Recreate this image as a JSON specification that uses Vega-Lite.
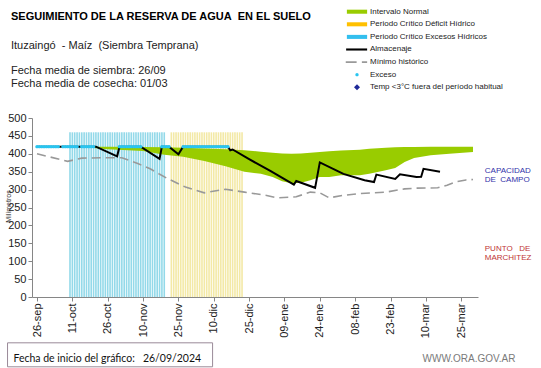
{
  "$schema": "https://vega.github.io/schema/vega-lite/v6.json",
  "autosize": {"type": "none"},
  "padding": {"left": 32, "top": 118, "right": 63, "bottom": 71},
  "width": 446,
  "height": 179,
  "background": "white",
  "title": {
    "text": "SEGUIMIENTO DE LA RESERVA DE AGUA\u00a0 EN EL SUELO",
    "subtitle": ["Ituzaingó\u00a0 - Maíz\u00a0 (Siembra Temprana)", "\u200b", "Fecha media de siembra: 26/09", "Fecha media de cosecha: 01/03"],
    "anchor": "start",
    "frame": "group",
    "orient": "top",
    "dx": -21,
    "offset": -85,
    "font": "Liberation Sans",
    "fontSize": 11,
    "fontWeight": "bold",
    "color": "#000000",
    "subtitleFont": "Liberation Sans",
    "subtitleFontSize": 11,
    "subtitleColor": "#222222",
    "subtitleLineHeight": 12.7,
    "subtitlePadding": 18
  },
  "datasets": {
    "periodos": [
      {"fecha": "2024-10-10", "tipo": "Excesos", "valor": 460}, {"fecha": "2024-10-11", "tipo": "Excesos", "valor": 460},
      {"fecha": "2024-10-12", "tipo": "Excesos", "valor": 460}, {"fecha": "2024-10-13", "tipo": "Excesos", "valor": 460},
      {"fecha": "2024-10-14", "tipo": "Excesos", "valor": 460}, {"fecha": "2024-10-15", "tipo": "Excesos", "valor": 460},
      {"fecha": "2024-10-16", "tipo": "Excesos", "valor": 460}, {"fecha": "2024-10-17", "tipo": "Excesos", "valor": 460},
      {"fecha": "2024-10-18", "tipo": "Excesos", "valor": 460}, {"fecha": "2024-10-19", "tipo": "Excesos", "valor": 460},
      {"fecha": "2024-10-20", "tipo": "Excesos", "valor": 460}, {"fecha": "2024-10-21", "tipo": "Excesos", "valor": 460},
      {"fecha": "2024-10-22", "tipo": "Excesos", "valor": 460}, {"fecha": "2024-10-23", "tipo": "Excesos", "valor": 460},
      {"fecha": "2024-10-24", "tipo": "Excesos", "valor": 460}, {"fecha": "2024-10-25", "tipo": "Excesos", "valor": 460},
      {"fecha": "2024-10-26", "tipo": "Excesos", "valor": 460}, {"fecha": "2024-10-27", "tipo": "Excesos", "valor": 460},
      {"fecha": "2024-10-28", "tipo": "Excesos", "valor": 460}, {"fecha": "2024-10-29", "tipo": "Excesos", "valor": 460},
      {"fecha": "2024-10-30", "tipo": "Excesos", "valor": 460}, {"fecha": "2024-10-31", "tipo": "Excesos", "valor": 460},
      {"fecha": "2024-11-01", "tipo": "Excesos", "valor": 460}, {"fecha": "2024-11-02", "tipo": "Excesos", "valor": 460},
      {"fecha": "2024-11-03", "tipo": "Excesos", "valor": 460}, {"fecha": "2024-11-04", "tipo": "Excesos", "valor": 460},
      {"fecha": "2024-11-05", "tipo": "Excesos", "valor": 460}, {"fecha": "2024-11-06", "tipo": "Excesos", "valor": 460},
      {"fecha": "2024-11-07", "tipo": "Excesos", "valor": 460}, {"fecha": "2024-11-08", "tipo": "Excesos", "valor": 460},
      {"fecha": "2024-11-09", "tipo": "Excesos", "valor": 460}, {"fecha": "2024-11-10", "tipo": "Excesos", "valor": 460},
      {"fecha": "2024-11-11", "tipo": "Excesos", "valor": 460}, {"fecha": "2024-11-12", "tipo": "Excesos", "valor": 460},
      {"fecha": "2024-11-13", "tipo": "Excesos", "valor": 460}, {"fecha": "2024-11-14", "tipo": "Excesos", "valor": 460},
      {"fecha": "2024-11-15", "tipo": "Excesos", "valor": 460}, {"fecha": "2024-11-16", "tipo": "Excesos", "valor": 460},
      {"fecha": "2024-11-17", "tipo": "Excesos", "valor": 460}, {"fecha": "2024-11-18", "tipo": "Excesos", "valor": 460},
      {"fecha": "2024-11-19", "tipo": "Excesos", "valor": 460},
      {"fecha": "2024-11-22", "tipo": "Deficit", "valor": 460}, {"fecha": "2024-11-23", "tipo": "Deficit", "valor": 460},
      {"fecha": "2024-11-24", "tipo": "Deficit", "valor": 460}, {"fecha": "2024-11-25", "tipo": "Deficit", "valor": 460},
      {"fecha": "2024-11-26", "tipo": "Deficit", "valor": 460}, {"fecha": "2024-11-27", "tipo": "Deficit", "valor": 460},
      {"fecha": "2024-11-28", "tipo": "Deficit", "valor": 460}, {"fecha": "2024-11-29", "tipo": "Deficit", "valor": 460},
      {"fecha": "2024-11-30", "tipo": "Deficit", "valor": 460}, {"fecha": "2024-12-01", "tipo": "Deficit", "valor": 460},
      {"fecha": "2024-12-02", "tipo": "Deficit", "valor": 460}, {"fecha": "2024-12-03", "tipo": "Deficit", "valor": 460},
      {"fecha": "2024-12-04", "tipo": "Deficit", "valor": 460}, {"fecha": "2024-12-05", "tipo": "Deficit", "valor": 460},
      {"fecha": "2024-12-06", "tipo": "Deficit", "valor": 460}, {"fecha": "2024-12-07", "tipo": "Deficit", "valor": 460},
      {"fecha": "2024-12-08", "tipo": "Deficit", "valor": 460}, {"fecha": "2024-12-09", "tipo": "Deficit", "valor": 460},
      {"fecha": "2024-12-10", "tipo": "Deficit", "valor": 460}, {"fecha": "2024-12-11", "tipo": "Deficit", "valor": 460},
      {"fecha": "2024-12-12", "tipo": "Deficit", "valor": 460}, {"fecha": "2024-12-13", "tipo": "Deficit", "valor": 460},
      {"fecha": "2024-12-14", "tipo": "Deficit", "valor": 460}, {"fecha": "2024-12-15", "tipo": "Deficit", "valor": 460},
      {"fecha": "2024-12-16", "tipo": "Deficit", "valor": 460}, {"fecha": "2024-12-17", "tipo": "Deficit", "valor": 460},
      {"fecha": "2024-12-18", "tipo": "Deficit", "valor": 460}, {"fecha": "2024-12-19", "tipo": "Deficit", "valor": 460},
      {"fecha": "2024-12-20", "tipo": "Deficit", "valor": 460}, {"fecha": "2024-12-21", "tipo": "Deficit", "valor": 460},
      {"fecha": "2024-12-22", "tipo": "Deficit", "valor": 460}
    ],
    "banda": [
      {"fecha": "2024-10-20", "inf": 416, "sup": 420},
      {"fecha": "2024-10-26", "inf": 413, "sup": 420},
      {"fecha": "2024-11-10", "inf": 408, "sup": 419},
      {"fecha": "2024-11-19", "inf": 397, "sup": 418},
      {"fecha": "2024-11-27", "inf": 392, "sup": 417},
      {"fecha": "2024-12-06", "inf": 380, "sup": 415},
      {"fecha": "2024-12-15", "inf": 365, "sup": 413},
      {"fecha": "2024-12-23", "inf": 350, "sup": 410},
      {"fecha": "2024-12-30", "inf": 344, "sup": 406},
      {"fecha": "2025-01-04", "inf": 335, "sup": 403},
      {"fecha": "2025-01-08", "inf": 323, "sup": 401},
      {"fecha": "2025-01-12", "inf": 318, "sup": 400},
      {"fecha": "2025-01-16", "inf": 319, "sup": 401},
      {"fecha": "2025-01-20", "inf": 326, "sup": 403},
      {"fecha": "2025-01-24", "inf": 335, "sup": 405},
      {"fecha": "2025-01-28", "inf": 335, "sup": 407},
      {"fecha": "2025-02-02", "inf": 340, "sup": 409},
      {"fecha": "2025-02-10", "inf": 340, "sup": 411},
      {"fecha": "2025-02-14", "inf": 344, "sup": 414},
      {"fecha": "2025-02-21", "inf": 354, "sup": 417},
      {"fecha": "2025-02-25", "inf": 360, "sup": 418},
      {"fecha": "2025-03-01", "inf": 377, "sup": 419},
      {"fecha": "2025-03-05", "inf": 388, "sup": 419},
      {"fecha": "2025-03-12", "inf": 396, "sup": 420},
      {"fecha": "2025-03-20", "inf": 400, "sup": 420},
      {"fecha": "2025-03-30", "inf": 405, "sup": 420}
    ],
    "minimo": [
      {"fecha": "2024-09-26", "valor": 400}, {"fecha": "2024-10-01", "valor": 392},
      {"fecha": "2024-10-09", "valor": 379}, {"fecha": "2024-10-15", "valor": 388},
      {"fecha": "2024-10-24", "valor": 389}, {"fecha": "2024-11-01", "valor": 389},
      {"fecha": "2024-11-08", "valor": 372}, {"fecha": "2024-11-13", "valor": 358},
      {"fecha": "2024-11-20", "valor": 332}, {"fecha": "2024-11-28", "valor": 307},
      {"fecha": "2024-12-06", "valor": 291}, {"fecha": "2024-12-15", "valor": 301},
      {"fecha": "2024-12-23", "valor": 293}, {"fecha": "2025-01-01", "valor": 284},
      {"fecha": "2025-01-06", "valor": 277}, {"fecha": "2025-01-14", "valor": 280},
      {"fecha": "2025-01-20", "valor": 293}, {"fecha": "2025-01-24", "valor": 291},
      {"fecha": "2025-01-28", "valor": 277}, {"fecha": "2025-02-03", "valor": 284},
      {"fecha": "2025-02-10", "valor": 289}, {"fecha": "2025-02-21", "valor": 293},
      {"fecha": "2025-03-01", "valor": 302}, {"fecha": "2025-03-06", "valor": 304},
      {"fecha": "2025-03-15", "valor": 305}, {"fecha": "2025-03-19", "valor": 312},
      {"fecha": "2025-03-23", "valor": 322}, {"fecha": "2025-03-27", "valor": 327},
      {"fecha": "2025-03-30", "valor": 328}
    ],
    "almacenaje": [
      {"fecha": "2024-09-26", "valor": 420}, {"fecha": "2024-10-21", "valor": 420},
      {"fecha": "2024-10-30", "valor": 393}, {"fecha": "2024-10-31", "valor": 420},
      {"fecha": "2024-11-09", "valor": 420}, {"fecha": "2024-11-17", "valor": 386},
      {"fecha": "2024-11-18", "valor": 420}, {"fecha": "2024-11-21", "valor": 420},
      {"fecha": "2024-11-25", "valor": 399}, {"fecha": "2024-11-27", "valor": 420},
      {"fecha": "2024-12-16", "valor": 420}, {"fecha": "2024-12-17", "valor": 410},
      {"fecha": "2024-12-18", "valor": 412}, {"fecha": "2024-12-25", "valor": 385},
      {"fecha": "2025-01-03", "valor": 352}, {"fecha": "2025-01-13", "valor": 314},
      {"fecha": "2025-01-14", "valor": 324}, {"fecha": "2025-01-22", "valor": 305},
      {"fecha": "2025-01-24", "valor": 376}, {"fecha": "2025-02-03", "valor": 344},
      {"fecha": "2025-02-12", "valor": 326}, {"fecha": "2025-02-16", "valor": 321},
      {"fecha": "2025-02-17", "valor": 342}, {"fecha": "2025-02-25", "valor": 330},
      {"fecha": "2025-02-27", "valor": 343}, {"fecha": "2025-03-06", "valor": 335},
      {"fecha": "2025-03-08", "valor": 336}, {"fecha": "2025-03-09", "valor": 358},
      {"fecha": "2025-03-16", "valor": 350}
    ],
    "exceso": [
      {"fecha": "2024-09-26", "serie": "Exceso", "valor": 420}, {"fecha": "2024-09-27", "serie": "Exceso", "valor": 420},
      {"fecha": "2024-09-28", "serie": "Exceso", "valor": 420}, {"fecha": "2024-09-29", "serie": "Exceso", "valor": 420},
      {"fecha": "2024-09-30", "serie": "Exceso", "valor": 420}, {"fecha": "2024-10-01", "serie": "Exceso", "valor": 420},
      {"fecha": "2024-10-02", "serie": "Exceso", "valor": 420}, {"fecha": "2024-10-03", "serie": "Exceso", "valor": 420},
      {"fecha": "2024-10-04", "serie": "Exceso", "valor": 420}, {"fecha": "2024-10-05", "serie": "Exceso", "valor": 420},
      {"fecha": "2024-10-07", "serie": "Exceso", "valor": 420}, {"fecha": "2024-10-08", "serie": "Exceso", "valor": 420},
      {"fecha": "2024-10-09", "serie": "Exceso", "valor": 420}, {"fecha": "2024-10-10", "serie": "Exceso", "valor": 420},
      {"fecha": "2024-10-11", "serie": "Exceso", "valor": 420}, {"fecha": "2024-10-12", "serie": "Exceso", "valor": 420},
      {"fecha": "2024-10-13", "serie": "Exceso", "valor": 420}, {"fecha": "2024-10-15", "serie": "Exceso", "valor": 420},
      {"fecha": "2024-10-16", "serie": "Exceso", "valor": 420}, {"fecha": "2024-10-17", "serie": "Exceso", "valor": 420},
      {"fecha": "2024-10-18", "serie": "Exceso", "valor": 420}, {"fecha": "2024-10-19", "serie": "Exceso", "valor": 420},
      {"fecha": "2024-10-20", "serie": "Exceso", "valor": 420},
      {"fecha": "2024-10-31", "serie": "Exceso", "valor": 420}, {"fecha": "2024-11-01", "serie": "Exceso", "valor": 420},
      {"fecha": "2024-11-02", "serie": "Exceso", "valor": 420}, {"fecha": "2024-11-03", "serie": "Exceso", "valor": 420},
      {"fecha": "2024-11-04", "serie": "Exceso", "valor": 420}, {"fecha": "2024-11-05", "serie": "Exceso", "valor": 420},
      {"fecha": "2024-11-06", "serie": "Exceso", "valor": 420}, {"fecha": "2024-11-07", "serie": "Exceso", "valor": 420},
      {"fecha": "2024-11-08", "serie": "Exceso", "valor": 420}, {"fecha": "2024-11-09", "serie": "Exceso", "valor": 420},
      {"fecha": "2024-11-18", "serie": "Exceso", "valor": 420}, {"fecha": "2024-11-19", "serie": "Exceso", "valor": 420},
      {"fecha": "2024-11-20", "serie": "Exceso", "valor": 420}, {"fecha": "2024-11-21", "serie": "Exceso", "valor": 420},
      {"fecha": "2024-11-27", "serie": "Exceso", "valor": 420}, {"fecha": "2024-11-28", "serie": "Exceso", "valor": 420},
      {"fecha": "2024-11-29", "serie": "Exceso", "valor": 420}, {"fecha": "2024-11-30", "serie": "Exceso", "valor": 420},
      {"fecha": "2024-12-01", "serie": "Exceso", "valor": 420}, {"fecha": "2024-12-02", "serie": "Exceso", "valor": 420},
      {"fecha": "2024-12-03", "serie": "Exceso", "valor": 420}, {"fecha": "2024-12-04", "serie": "Exceso", "valor": 420},
      {"fecha": "2024-12-05", "serie": "Exceso", "valor": 420}, {"fecha": "2024-12-06", "serie": "Exceso", "valor": 420},
      {"fecha": "2024-12-07", "serie": "Exceso", "valor": 420}, {"fecha": "2024-12-08", "serie": "Exceso", "valor": 420},
      {"fecha": "2024-12-09", "serie": "Exceso", "valor": 420}, {"fecha": "2024-12-10", "serie": "Exceso", "valor": 420},
      {"fecha": "2024-12-11", "serie": "Exceso", "valor": 420}, {"fecha": "2024-12-12", "serie": "Exceso", "valor": 420},
      {"fecha": "2024-12-13", "serie": "Exceso", "valor": 420}, {"fecha": "2024-12-14", "serie": "Exceso", "valor": 420},
      {"fecha": "2024-12-15", "serie": "Exceso", "valor": 420}, {"fecha": "2024-12-16", "serie": "Exceso", "valor": 420}
    ]
  },
  "layer": [
    {
      "data": {"name": "periodos"},
      "transform": [{"filter": "datum.tipo === 'Excesos'"}],
      "mark": {"type": "bar", "size": 1.6, "color": "#93d9e9"},
      "encoding": {
        "x": {
          "field": "fecha", "type": "temporal",
          "scale": {"type": "utc", "domain": [{"year": 2024, "month": 9, "date": 26, "utc": true}, {"year": 2025, "month": 3, "date": 30, "utc": true}]},
          "axis": {
            "title": null,
            "values": [
              {"year": 2024, "month": 9, "date": 26, "utc": true}, {"year": 2024, "month": 10, "date": 11, "utc": true},
              {"year": 2024, "month": 10, "date": 26, "utc": true}, {"year": 2024, "month": 11, "date": 10, "utc": true},
              {"year": 2024, "month": 11, "date": 25, "utc": true}, {"year": 2024, "month": 12, "date": 10, "utc": true},
              {"year": 2024, "month": 12, "date": 25, "utc": true}, {"year": 2025, "month": 1, "date": 9, "utc": true},
              {"year": 2025, "month": 1, "date": 24, "utc": true}, {"year": 2025, "month": 2, "date": 8, "utc": true},
              {"year": 2025, "month": 2, "date": 23, "utc": true}, {"year": 2025, "month": 3, "date": 10, "utc": true},
              {"year": 2025, "month": 3, "date": 25, "utc": true}
            ],
            "tickCount": 40,
            "labelExpr": "utcFormat(datum.value, '%d') + '-' + ['ene','feb','mar','abr','may','jun','jul','ago','sep','oct','nov','dic'][utcmonth(datum.value)]",
            "labelAngle": -90,
            "labelFont": "Liberation Sans",
            "labelFontSize": 11,
            "labelColor": "#222222",
            "labelPadding": 2,
            "tickSize": 4,
            "tickColor": "#868686",
            "domainColor": "#868686",
            "grid": false,
            "labelOverlap": false,
            "labelFlush": false,
            "labelBound": false
          }
        },
        "y": {
          "field": "valor", "type": "quantitative",
          "scale": {"domain": [0, 500], "nice": false},
          "axis": {
            "title": "Milímetros",
            "values": [0, 50, 100, 150, 200, 250, 300, 350, 400, 450, 500],
            "tickCount": 40,
            "grid": false,
            "labelOverlap": false,
            "labelFlush": false,
            "labelBound": false,
            "labelFont": "Liberation Sans",
            "labelFontSize": 11,
            "labelColor": "#222222",
            "labelPadding": 2,
            "tickSize": 4,
            "tickColor": "#868686",
            "domainColor": "#868686",
            "titleFont": "Liberation Sans",
            "titleFontSize": 7,
            "titleFontWeight": "normal",
            "titleColor": "#333333",
            "titleX": -24,
            "titleY": 88,
            "titleBaseline": "middle"
          }
        }
      }
    },
    {
      "data": {"name": "periodos"},
      "transform": [{"filter": "datum.tipo === 'Deficit'"}],
      "mark": {"type": "bar", "size": 1.6, "color": "#f3e9a6"},
      "encoding": {
        "x": {"field": "fecha", "type": "temporal"},
        "y": {"field": "valor", "type": "quantitative"}
      }
    },
    {
      "data": {"name": "banda"},
      "mark": {"type": "area", "color": "#99cc00", "opacity": 1},
      "encoding": {
        "x": {"field": "fecha", "type": "temporal"},
        "y": {"field": "sup", "type": "quantitative"},
        "y2": {"field": "inf"}
      }
    },
    {
      "mark": {"type": "rule", "color": "#7088c8", "strokeWidth": 1},
      "encoding": {"y": {"datum": 420}}
    },
    {
      "mark": {"type": "rule", "color": "#cc5555", "strokeWidth": 1},
      "encoding": {"y": {"datum": 302}}
    },
    {
      "data": {"name": "minimo"},
      "mark": {"type": "line", "color": "#999999", "strokeWidth": 1.6, "strokeDash": [9, 5]},
      "encoding": {
        "x": {"field": "fecha", "type": "temporal"},
        "y": {"field": "valor", "type": "quantitative"}
      }
    },
    {
      "data": {"name": "almacenaje"},
      "mark": {"type": "line", "color": "#000000", "strokeWidth": 2},
      "encoding": {
        "x": {"field": "fecha", "type": "temporal"},
        "y": {"field": "valor", "type": "quantitative"}
      }
    },
    {
      "data": {"name": "exceso"},
      "mark": {"type": "point", "filled": true, "opacity": 1, "size": 240, "strokeWidth": 0},
      "encoding": {
        "x": {"field": "fecha", "type": "temporal"},
        "y": {"field": "valor", "type": "quantitative"},
        "color": {
          "field": "serie", "type": "nominal", "title": null,
          "scale": {
            "domain": ["Intervalo Normal", "Periodo Crítico Déficit Hídrico", "Periodo Crítico Excesos Hídricos", "Almacenaje", "Mínimo histórico", "Exceso", "Temp <3°C fuera del período habitual"],
            "range": ["#99cc00", "#ffc000", "#33bfee", "#000000", "#999999", "#29c5f0", "#1f2a99"]
          }
        },
        "shape": {
          "field": "serie", "type": "nominal", "title": null,
          "scale": {
            "domain": ["Intervalo Normal", "Periodo Crítico Déficit Hídrico", "Periodo Crítico Excesos Hídricos", "Almacenaje", "Mínimo histórico", "Exceso", "Temp <3°C fuera del período habitual"],
            "range": [
              "M-1.35,-0.27H1.35V0.27H-1.35Z",
              "M-1.35,-0.27H1.35V0.27H-1.35Z",
              "M-1.35,-0.27H1.35V0.27H-1.35Z",
              "M-1.45,-0.14H1.35V0.14H-1.45Z",
              "M-1.5,-0.12H-0.05V0.12H-1.5ZM0.65,-0.12H1.35V0.12H0.65Z",
              "M-0.22,0A0.22,0.22,0,1,0,0.22,0A0.22,0.22,0,1,0,-0.22,0Z",
              "M0,-0.4L0.4,0L0,0.4L-0.4,0Z"
            ]
          }
        }
      }
    },
    {
      "data": {"values": [{}]},
      "mark": {"type": "text", "text": ["CAPACIDAD", "DE\u00a0 CAMPO"], "font": "Liberation Sans", "fontSize": 8, "lineHeight": 9, "color": "#3333aa", "align": "left", "baseline": "alphabetic"},
      "encoding": {
        "x": {"datum": {"year": 2025, "month": 4, "date": 4, "utc": true}},
        "y": {"datum": 347}
      }
    },
    {
      "data": {"values": [{}]},
      "mark": {"type": "text", "text": ["PUNTO\u00a0\u00a0 DE", "MARCHITEZ"], "font": "Liberation Sans", "fontSize": 8, "lineHeight": 9, "color": "#c03535", "align": "left", "baseline": "alphabetic"},
      "encoding": {
        "x": {"datum": {"year": 2025, "month": 4, "date": 4, "utc": true}},
        "y": {"datum": 128}
      }
    },
    {
      "data": {"values": [{}]},
      "mark": {"type": "rect", "filled": false, "stroke": "#9a8a98", "strokeWidth": 1},
      "encoding": {
        "x": {"datum": {"year": 2024, "month": 9, "date": 13, "hours": 12, "utc": true}},
        "x2": {"datum": {"year": 2024, "month": 12, "date": 9, "hours": 12, "utc": true}},
        "y": {"datum": -128},
        "y2": {"datum": -195}
      }
    },
    {
      "data": {"values": [{}]},
      "mark": {"type": "text", "text": "Fecha de inicio del gráfico:\u00a0\u00a0 26/09/2024", "font": "Lato", "fontSize": 10.5, "color": "#111111", "align": "left", "baseline": "alphabetic"},
      "encoding": {
        "x": {"datum": {"year": 2024, "month": 9, "date": 16, "utc": true}},
        "y": {"datum": -181}
      }
    },
    {
      "data": {"values": [{}]},
      "mark": {"type": "text", "text": "WWW.ORA.GOV.AR", "font": "Liberation Sans", "fontSize": 10, "color": "#7a7a7a", "align": "left", "baseline": "alphabetic"},
      "encoding": {
        "x": {"datum": {"year": 2025, "month": 3, "date": 8, "hours": 14, "utc": true}},
        "y": {"datum": -181}
      }
    }
  ],
  "config": {
    "view": {"stroke": null},
    "legend": {
      "orient": "none",
      "legendX": 317.5,
      "legendY": -113.8,
      "padding": 0,
      "symbolSize": 225,
      "symbolStrokeWidth": 0,
      "labelFont": "Liberation Sans",
      "labelFontSize": 8,
      "labelColor": "#222222",
      "labelOffset": 5.5,
      "rowPadding": 0.6,
      "labelLimit": 300
    }
  }
}
